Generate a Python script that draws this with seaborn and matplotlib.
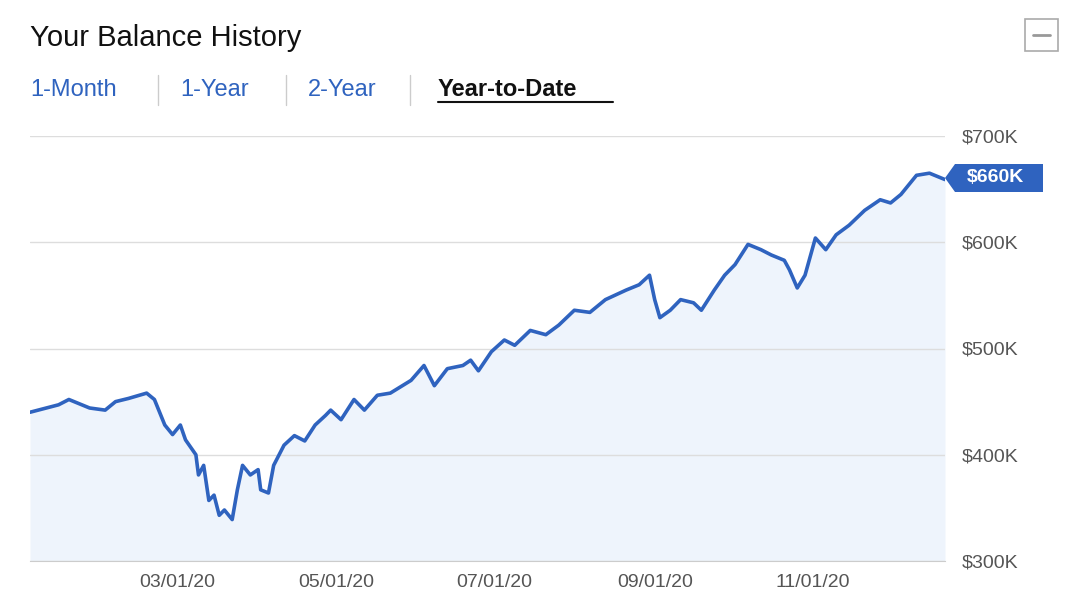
import matplotlib
matplotlib.use("Agg")
import matplotlib.pyplot as plt
import seaborn as sns
import pandas as pd
import numpy as np
from matplotlib.patches import Rectangle, Polygon

day_of_year = [4,15,19,27,33,37,42,49,52,56,59,62,64,68,69,71,73,75,77,79,82,84,86,89,92,93,96,98,
               102,106,110,114,118,120,124,129,133,138,143,151,156,160,165,171,174,177,182,187,191,
               197,203,208,214,220,226,234,239,243,245,247,251,255,260,263,268,272,276,281,286,290,
               295,297,300,303,307,311,315,320,326,332,336,340,346,351,357]
balance_k = [440,447,452,444,442,450,453,458,452,428,419,428,414,400,381,390,357,362,343,348,339,367,
             390,381,386,367,364,390,409,418,413,428,437,442,433,452,442,456,458,470,484,465,481,484,
             489,479,497,508,503,517,513,522,536,534,546,555,560,569,546,529,536,546,543,536,555,569,
             579,598,593,588,583,574,557,569,604,593,607,616,630,640,637,645,663,665,659]
y_ticks = [300, 400, 500, 600, 700]
x_ticks = ["2020-03-01", "2020-05-01", "2020-07-01", "2020-09-01", "2020-11-01"]
tabs = ["1-Month", "1-Year", "2-Year", "Year-to-Date"]
last_label = "$660K"

df = pd.DataFrame({
    "date": pd.Timestamp("2020-01-01") + pd.to_timedelta(np.array(day_of_year) - 1, unit="D"),
    "value": balance_k,
})

sns.set_style("white")
plt.rcParams["font.family"] = ["Liberation Sans", "DejaVu Sans"]
W, H = 1066, 608
fig = plt.figure(figsize=(W / 100, H / 100), dpi=100)
ax = fig.add_axes([30 / W, 1 - 561 / H, (945 - 30) / W, (561 - 136) / H])
blue = "#2f63bf"
ax.fill_between(df["date"], df["value"], 300, color="#eef4fc", lw=0, zorder=0)
for v in y_ticks:
    ax.axhline(v, color="#dddddd", lw=1, zorder=1)
sns.lineplot(data=df, x="date", y="value", ax=ax, color=blue, lw=2.6, zorder=3)
ax.set_ylim(300, 700)
ax.set_xlim(pd.Timestamp("2020-01-04"), df["date"].iloc[-1])
ax.set_yticks(y_ticks)
ax.yaxis.tick_right()
ax.set_yticklabels([f"${v}K" for v in y_ticks], fontsize=14, color="#555555")
ax.set_xticks(pd.to_datetime(x_ticks))
ax.set_xticklabels(pd.to_datetime(x_ticks).strftime("%m/%d/%y"), fontsize=14, color="#555555")
ax.tick_params(axis="y", length=0, pad=12)
ax.tick_params(axis="x", length=6, color="#cccccc", direction="out")
for s in ["top", "left", "right"]:
    ax.spines[s].set_visible(False)
ax.spines["bottom"].set_color("#cccccc")
ax.set_xlabel("")
ax.set_ylabel("")

fig.text(30 / W, 1 - 38 / H, "Your Balance History", fontsize=21, va="center", color="#111111")
tab_x = [30, 180, 308, 438]
for t, x in zip(tabs, tab_x):
    if t == "Year-to-Date":
        fig.text(x / W, 1 - 90 / H, t, fontsize=17, fontweight="bold", va="center", color="#111111")
        fig.add_artist(plt.Line2D([x / W, 613 / W], [1 - 102 / H] * 2, color="#111111", lw=1.5))
    else:
        fig.text(x / W, 1 - 90 / H, t, fontsize=17, va="center", color=blue)
for sx in [158, 286, 410]:
    fig.add_artist(plt.Line2D([sx / W] * 2, [1 - 75 / H, 1 - 105 / H], color="#cccccc", lw=1))

fig.add_artist(Rectangle((1025 / W, 1 - 51 / H), 33 / W, 32 / H, fill=False, ec="#aaaaaa", lw=1.2))
fig.add_artist(plt.Line2D([1033 / W, 1050 / W], [1 - 35 / H] * 2, color="#999999", lw=2))

ty = 1 - 178 / H
fig.add_artist(Polygon([(945 / W, ty), (955 / W, ty + 14 / H), (1043 / W, ty + 14 / H),
                        (1043 / W, ty - 14 / H), (955 / W, ty - 14 / H)],
                       closed=True, fc=blue, ec="none"))
fig.text(995 / W, ty, last_label, color="white", fontsize=14, fontweight="bold", ha="center", va="center")

fig.savefig("out.png", dpi=100)
